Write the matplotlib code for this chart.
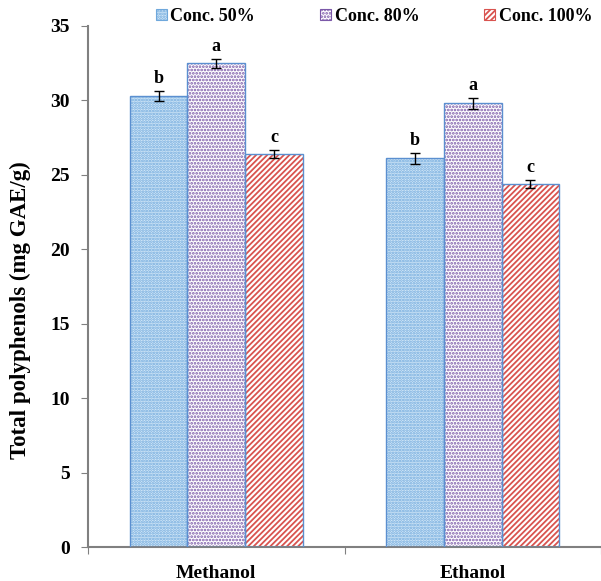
import matplotlib.pyplot as plt
import numpy as np
from matplotlib.patches import Patch

plt.rcParams['font.family'] = ['Liberation Serif', 'DejaVu Serif']
plt.rcParams['font.weight'] = 'bold'

solvents = ["Methanol", "Ethanol"]
concs = ["Conc. 50%", "Conc. 80%", "Conc. 100%"]
values = {
    "Conc. 50%": [30.3, 26.1],
    "Conc. 80%": [32.5, 29.8],
    "Conc. 100%": [26.4, 24.4],
}
errors = {
    "Conc. 50%": [0.35, 0.35],
    "Conc. 80%": [0.3, 0.35],
    "Conc. 100%": [0.25, 0.25],
}
letters = {
    "Conc. 50%": ["b", "b"],
    "Conc. 80%": ["a", "a"],
    "Conc. 100%": ["c", "c"],
}

styles = {
    "Conc. 50%": dict(face="#d3e8f8", hatch_col="#6fa8dc", hatch="......"),
    "Conc. 80%": dict(face="white", hatch_col="#7b58a8", hatch="....."),
    "Conc. 100%": dict(face="white", hatch_col="#d9534f", hatch="//////"),
}
edge_col = "#5b8fd0"

plt.rcParams['hatch.linewidth'] = 1.3

fig = plt.figure(figsize=(6.01, 5.81), dpi=100)
ax = fig.add_axes([88 / 601, 34 / 581, 513 / 601, 521 / 581])

x = np.arange(len(solvents))
w = 0.225
for k, c in enumerate(concs):
    pos = x + (k - 1) * w
    st = styles[c]
    ax.bar(pos, values[c], w, color=st["face"], edgecolor=st["hatch_col"],
           hatch=st["hatch"], linewidth=0, zorder=2)
    ax.bar(pos, values[c], w, fill=False, edgecolor=edge_col, linewidth=1.0, zorder=3)
    ax.errorbar(pos, values[c], yerr=errors[c], fmt="none", ecolor="black",
                elinewidth=1.0, capsize=3.5, capthick=1.0, zorder=4)
    for p, v, e, t in zip(pos, values[c], errors[c], letters[c]):
        ax.text(p, v + e + 0.55, t, ha="center", va="baseline", fontsize=13,
                fontweight="bold")

ax.set_xlim(-0.5, 1.455)
ax.set_ylim(0, 35)
ax.set_yticks(range(0, 36, 5))
ax.set_xticks([-0.5, 0.5, 1.5], minor=False)
ax.set_xticklabels([])
ax.set_xticks(x, minor=True)
ax.set_xticklabels(solvents, minor=True, fontsize=14, fontweight="bold")
ax.tick_params(axis="x", which="minor", length=0, pad=13)
ax.tick_params(axis="x", which="major", length=5, color="#808080", direction="out")
ax.tick_params(axis="y", length=5, color="#808080", labelsize=14, pad=8)
for lab in ax.get_yticklabels():
    lab.set_fontweight("bold")

for s in ["top", "right"]:
    ax.spines[s].set_visible(False)
for s in ["left", "bottom"]:
    ax.spines[s].set_color("#808080")
    ax.spines[s].set_linewidth(1.5)

ax.set_ylabel("Total polyphenols (mg GAE/g)", fontsize=16.5, fontweight="bold")
ax.yaxis.set_label_coords(-0.112, 0.455)

handles = [Patch(facecolor=styles[c]["face"], edgecolor=styles[c]["hatch_col"],
                 hatch=styles[c]["hatch"], linewidth=0.8) for c in concs]
fig.legend(handles, concs, loc="center left", bbox_to_anchor=(156 / 601, 0.972), ncol=3,
           frameon=False, handlelength=0.6, handleheight=0.6,
           handletextpad=0.2, columnspacing=3.6, borderpad=0, borderaxespad=0,
           prop={"weight": "bold", "size": 13})

fig.savefig("out.png", dpi=100)
